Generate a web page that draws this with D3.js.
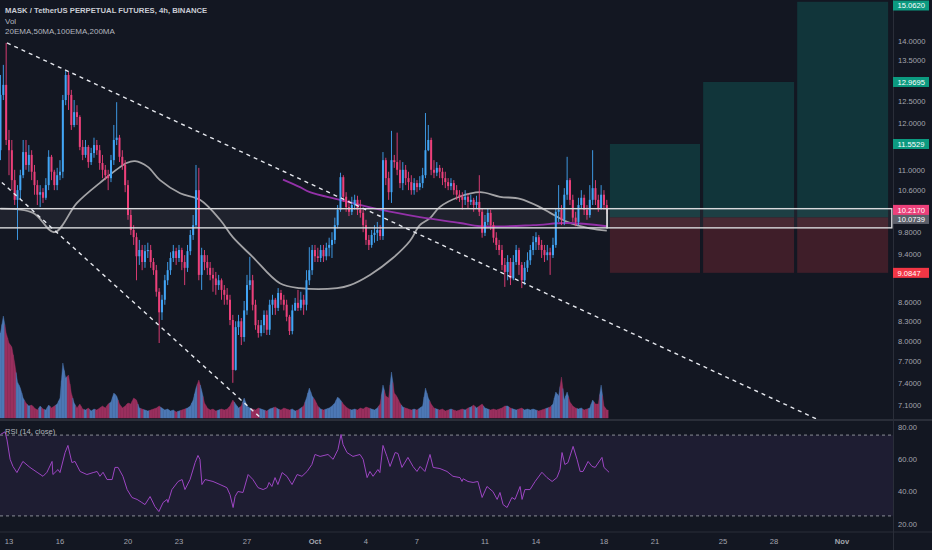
<!DOCTYPE html>
<html><head><meta charset="utf-8">
<script src="https://cdn.jsdelivr.net/npm/d3@7"></script>
<style>html,body{margin:0;padding:0;background:#131722;overflow:hidden}</style>
</head><body><svg id="c" width="932" height="550"></svg>
<script>
// ---------- DATA ----------
const symbolTitle = "MASK / TetherUS PERPETUAL FUTURES, 4h, BINANCE";
const legendLines = ["Vol", "20EMA,50MA,100EMA,200MA"];
const firstOpen = 11.42;
const closes = [
12.66,12.90,11.64,11.42,10.80,10.41,10.60,10.90,11.38,11.11,
11.32,10.97,10.70,10.51,10.56,10.45,10.70,11.28,10.97,10.70,
10.90,10.97,12.54,13.14,12.66,11.97,12.26,12.15,11.49,11.32,
11.49,11.17,11.36,11.53,11.42,11.15,11.01,10.90,10.84,11.21,
11.64,11.69,11.28,11.11,10.70,10.12,9.84,9.71,9.37,9.48,
9.27,9.46,9.48,9.27,9.13,8.77,8.44,8.64,8.96,9.13,
9.34,9.46,9.34,9.48,9.27,9.17,9.46,9.75,9.93,10.60,
9.05,9.39,9.27,9.17,9.05,8.99,8.88,8.96,8.80,8.72,
8.64,8.32,7.58,8.21,8.30,8.06,8.47,8.88,8.96,8.56,
8.24,8.12,8.24,8.40,8.17,8.56,8.64,8.51,8.75,8.64,
8.56,8.37,8.15,8.47,8.59,8.51,8.64,8.56,8.96,9.13,
9.48,9.37,9.34,9.48,9.37,9.52,9.57,9.66,9.93,10.22,
10.86,10.47,10.27,10.18,10.31,10.41,10.22,10.16,9.93,9.66,
9.57,9.75,9.79,9.84,9.73,11.21,10.84,10.56,11.21,11.17,
11.01,10.74,11.01,10.84,10.76,10.60,10.74,10.66,10.74,10.90,
11.42,11.64,11.01,10.95,11.05,10.97,10.84,10.76,10.68,10.74,
10.60,10.51,10.47,10.41,10.47,10.37,10.41,10.31,10.37,10.18,
9.79,9.99,10.16,9.93,9.70,9.57,9.48,9.22,9.10,9.27,
8.99,9.27,9.48,9.22,8.96,9.17,9.30,9.48,9.62,9.71,
9.57,9.48,9.39,9.44,9.39,9.57,10.18,10.22,10.03,10.51,
10.80,10.41,10.07,9.99,10.31,10.45,10.22,10.12,10.41,10.64,
10.41,10.25,10.51,10.31,10.217];
const highs = [
13.14,13.39,13.95,11.86,11.64,11.01,10.70,11.01,11.64,11.64,
11.53,11.42,11.11,10.80,10.70,10.64,10.84,11.42,11.32,11.01,
11.05,11.21,12.66,13.26,13.21,12.78,12.54,12.42,12.19,11.64,
11.64,11.53,11.47,11.69,11.64,11.53,11.32,11.11,11.01,11.32,
11.97,12.49,11.75,11.42,11.21,10.80,10.22,9.93,9.79,9.66,
9.57,9.57,9.61,9.57,9.34,9.22,8.83,8.72,9.05,9.27,
9.44,9.57,9.52,9.57,9.52,9.39,9.57,9.84,10.12,11.11,
11.05,9.52,9.48,9.39,9.27,9.17,9.10,9.05,8.99,8.88,
8.83,8.72,8.40,8.30,8.40,8.35,8.62,9.05,9.36,9.05,
8.64,8.32,8.32,8.47,8.47,8.64,8.72,8.67,8.83,8.80,
8.72,8.64,8.40,8.56,8.67,8.80,8.77,8.72,9.13,9.53,
9.57,9.57,9.52,9.57,9.57,9.61,9.70,9.80,10.07,10.31,
10.95,10.90,10.56,10.41,10.47,10.51,10.49,10.41,10.22,10.03,
9.75,9.84,9.93,9.99,9.93,11.38,11.26,10.97,11.84,11.32,
11.80,11.21,11.17,11.11,10.97,10.90,10.84,10.80,10.88,11.05,
12.24,11.97,11.69,11.21,11.17,11.11,11.05,10.97,10.84,10.84,
10.80,10.70,10.60,10.56,10.60,10.54,10.51,10.45,10.49,10.90,
10.25,10.12,10.25,10.22,9.99,9.80,9.66,9.57,9.34,9.39,
9.34,9.39,9.57,9.52,9.27,9.27,9.44,9.57,9.73,9.80,
9.75,9.66,9.57,9.57,9.52,9.70,10.25,10.70,10.31,10.64,
11.28,10.84,10.51,10.18,10.45,10.60,10.51,10.31,10.70,11.42,
10.80,10.51,10.70,10.60,10.41];
const lows = [
11.21,12.54,11.53,10.90,10.60,10.31,9.66,10.41,10.84,11.01,
10.97,10.80,10.51,10.31,10.27,10.35,10.41,10.60,10.80,10.60,
10.60,10.80,10.84,12.42,12.31,11.86,11.92,11.97,11.42,11.21,
11.26,11.05,11.11,11.26,11.32,11.01,10.84,10.80,10.60,10.76,
11.11,11.53,11.17,11.01,10.56,10.03,9.75,9.57,8.96,9.22,
9.13,9.17,9.34,9.17,9.05,8.69,7.97,8.32,8.56,8.88,
9.05,9.27,9.22,9.27,9.13,8.88,9.10,9.39,9.66,9.89,
8.96,8.80,9.13,9.05,8.96,8.77,8.72,8.80,8.64,8.56,
8.56,8.24,7.40,7.57,8.09,7.94,7.99,8.40,8.80,8.47,
8.17,8.05,8.07,8.12,8.09,8.09,8.40,8.40,8.46,8.56,
8.47,8.30,8.09,8.10,8.46,8.46,8.47,8.40,8.47,8.88,
9.05,9.27,9.27,9.27,9.27,9.30,9.37,9.34,9.59,9.87,
10.18,10.37,10.18,10.10,10.12,10.22,10.12,10.07,9.80,9.57,
9.48,9.52,9.61,9.64,9.66,9.66,10.70,10.41,10.35,11.05,
10.90,10.64,10.60,10.70,10.60,10.51,10.51,10.56,10.60,10.64,
10.84,11.40,10.90,10.84,10.88,10.84,10.70,10.64,10.60,10.60,
10.51,10.41,10.37,10.22,10.31,10.25,10.31,10.18,10.25,10.10,
9.70,9.73,9.93,9.84,9.61,9.48,9.39,9.13,8.85,8.96,
8.88,8.96,9.22,9.05,8.83,8.88,9.10,9.22,9.39,9.48,
9.48,9.34,9.27,9.30,9.05,9.34,9.52,9.99,9.93,9.93,
10.41,10.31,9.99,9.91,9.93,10.25,10.12,10.03,10.07,10.31,
10.31,10.18,10.22,10.22,10.14];
const volumes = [
850,1020,850,750,710,550,360,300,200,150,
120,130,100,80,120,90,80,130,100,120,
140,200,550,400,430,250,150,100,140,90,
80,100,70,90,80,100,120,100,140,160,
250,220,140,100,120,150,140,200,180,100,
90,80,70,80,90,100,120,100,80,90,
70,80,60,70,80,90,100,120,180,300,
380,280,150,100,80,90,70,80,90,80,
90,120,180,140,100,120,200,120,100,90,
80,100,90,80,70,90,100,110,90,80,
100,90,80,90,70,80,100,120,200,300,
220,180,120,90,80,90,100,120,150,210,
180,140,110,90,80,90,80,100,90,110,
100,90,80,100,140,330,220,200,460,250,
210,150,110,100,90,80,90,80,100,120,
300,200,140,100,90,80,90,70,80,90,
80,70,80,90,80,100,110,130,100,120,
140,100,90,80,90,80,90,100,120,120,
100,90,80,90,100,80,90,80,90,80,
70,80,90,100,110,140,260,220,410,180,
260,160,120,100,90,100,80,90,100,180,
140,140,330,120,80];
// moving averages sampled along the drawn curves (candle index, price)
const ma50At  = [0,11.5,19,27,35,44.5,47.5,52,56.3,63.4,70.4,77.5,82,89,98.6,105.7,118.8,123.4,130.4,138.5,144.5,148,151.6,155,162,169.3,176.3,183.4,190.4,194,200,208,214];
const ma50Val = [10.24,10.16,9.80,10.35,10.74,11.15,11.19,11.07,10.80,10.54,10.41,10.03,9.71,9.36,8.91,8.83,8.83,8.88,9.05,9.34,9.64,9.93,10.06,10.27,10.47,10.56,10.47,10.43,10.27,10.16,9.99,9.87,9.83];
const ma200At  = [99.7,105.7,109.2,119.8,134,148,162.2,169.3,188,200,214];
const ma200Val = [10.81,10.66,10.56,10.41,10.22,10.08,9.97,9.91,9.93,9.97,9.91];
// RSI (14, close)
const rsiAt = [0,1.6,2.3,3.4,4.4,5.8,7.9,10.4,12.9,15,16.4,18.2,18.5,20.3,21,22.8,23.8,25.2,26.3,28.1,30.5,32.7,34.1,35.1,36.2,37.6,39.4,40.4,41.5,43.2,44.7,46.4,48.2,49.9,51,52.8,54.5,55.9,57.4,58.8,59.1,60.5,62.7,64.1,65.1,66.9,68.7,69.7,70.4,71.1,72.2,75,77.5,79.9,81,82.1,82.8,83.8,85.6,87.4,89.1,90.9,92.7,94.1,94.8,95.8,96.9,97.9,99.4,101.1,102.9,104.7,106.4,108.2,109.9,111,112.8,115.6,117.4,119.1,120.2,120.9,122.3,124.4,126.9,128,129.4,130.4,131.5,133.2,133.9,135,136.4,137.5,139.3,140.3,141.7,143.8,145.6,147,148.1,149.8,151.6,152.7,155.1,157.6,159.7,162.2,162.9,163.3,165,166.8,168.5,170,171.7,173.8,175.3,176.3,177.4,178.8,180.5,181.6,183.4,184.1,185.1,186.9,188.7,191.1,192.9,194.7,196.4,197.5,198.2,199.2,200.3,202.1,203.5,204.6,205.6,207.4,208.8,209.9,212.3,213,214.8];
const rsiVal = [75.4,77,72,60,55.6,51.8,58.7,55,52,49.5,52,58.7,50.6,53.7,51.8,64.2,68.6,58,58.7,52.5,50.6,51.8,52.5,49.5,52,47.5,47.5,55,55,49.5,41.3,36.4,35.2,33.3,32,37,30.8,27.7,33.3,35.2,33.3,41.3,46.3,47.5,41.3,47.5,58,62.4,60,44.4,47.5,46.3,44.4,42.5,38.2,30.2,37,40.1,39.5,50.6,47.5,42.5,41.3,42.5,45.7,43.2,48.7,44.4,51.8,49.5,44.4,50.6,49.5,52.5,56.8,63,61.8,63,60,66,75.4,69.2,64.2,61.8,63,60,48.7,52.5,49.5,53.7,51.8,68.6,61.8,55.6,64.2,63.6,55,61.2,55.6,52.5,55.6,52.5,63,55,54.3,52.5,49.5,48.7,46.3,48,46.3,45.7,46.3,36.4,43.2,40.1,35.2,39.5,32,30.2,36.4,35.2,43.2,35.2,41.3,41.3,46.3,52,48.7,46.3,48.7,53.7,64.2,56.8,58,68,60,52.5,52.5,58.7,55.6,55,61.2,55,52];
const rsiTicks = [80, 60, 40, 20];
const rsiBands = [75, 25];
const priceTicks = [14, 13.5, 12.5, 12, 11, 10.6, 9.8, 9.4, 8.6, 8.3, 8.0, 7.7, 7.4, 7.1];
const dateTicks = ["2021-09-13","2021-09-16","2021-09-20","2021-09-23","2021-09-27","2021-10-01","2021-10-04","2021-10-07","2021-10-11","2021-10-14","2021-10-18","2021-10-21","2021-10-25","2021-10-28","2021-11-01"];
const dateTickLabels = ["13","16","20","23","27","Oct","4","7","11","14","18","21","25","28","Nov"];
// long-position drawings
const entryPrice = 10.0739, stopPrice = 9.0847, lastPrice = 10.2170;
const targets = [11.5529, 12.9695, 15.0620];
const positionSpans = [[215.1, 246.9], [248.0, 280.1], [281.2, 313.3]];
// horizontal zone box
const zoneLow = 9.88, zoneHigh = 10.24;
const zoneSpans = [[-5, 214.1], [214.1, 314.6]];
// trend lines (candle index, price)
const trendUpper = [[2.3, 13.95], [109.2, 10.73]];
const trendLower = [[2.3, 10.66], [42.9, 8.77]];

// ---------- DRAWING ----------
const W = 932, H = 550, PR = 893, MAIN_B = 419, RSI_T = 421, RSI_B = 531;
const UP = "#42a5f5", DOWN = "#ec407a";
const FONT = "'Liberation Sans', Arial, sans-serif";
const svg = d3.select("#c");
svg.append("rect").attr("width", W).attr("height", H).attr("fill", "#131722");
const defs = svg.append("defs");
defs.append("clipPath").attr("id", "mc").append("rect").attr("x", 0).attr("y", 0).attr("width", PR).attr("height", MAIN_B);
defs.append("clipPath").attr("id", "rc").append("rect").attr("x", 0).attr("y", RSI_T).attr("width", PR).attr("height", RSI_B - RSI_T);

const x = d3.scaleLinear().domain([0, 214]).range([0.5, 606.8]);
const y = d3.scaleLog().domain([7.1, 14]).range([405, 41]);
const volY = d3.scaleLinear().domain([0, 1020]).range([418, 316]);
const rsiY = d3.scaleLinear().domain([20, 80]).range([524, 427]);
const H4 = 4 * 3600 * 1000, t0 = Date.UTC(2021, 8, 12, 12);
const dateToIdx = s => (Date.parse(s + "T00:00:00Z") - t0) / H4;

const candles = closes.map((c, i) => {
  const o = i ? closes[i - 1] : firstOpen;
  return { i, o, c, h: highs[i], l: lows[i], v: volumes[i], up: c >= o };
});
const n = candles.length;

const g = svg.append("g").attr("clip-path", "url(#mc)");

// position tool
positionSpans.forEach((s, k) => {
  const x0 = x(s[0]), x1 = x(s[1]);
  g.append("rect").attr("x", x0).attr("width", x1 - x0)
    .attr("y", y(targets[k])).attr("height", y(entryPrice) - y(targets[k])).attr("fill", "#11353a");
  g.append("rect").attr("x", x0).attr("width", x1 - x0)
    .attr("y", y(entryPrice)).attr("height", y(stopPrice) - y(entryPrice)).attr("fill", "#3f1e29");
});

// zone fill
zoneSpans.forEach(s => {
  g.append("rect").attr("x", x(s[0])).attr("width", x(s[1]) - x(s[0]))
    .attr("y", y(zoneHigh)).attr("height", y(zoneLow) - y(zoneHigh)).attr("fill", "rgba(255,255,255,0.05)");
});

// volume mountains
const vArea = d3.area().x(p => p[0]).y0(418).y1(p => p[1]);
candles.forEach((d, i) => {
  const vp = i > 0 ? (candles[i - 1].v + d.v) / 2 : d.v;
  const vn = i < n - 1 ? (candles[i + 1].v + d.v) / 2 : d.v;
  const col = d.up ? "#4d78b5" : "#9a2f5e";
  g.append("path").attr("d", vArea([[x(i - 0.5), volY(vp)], [x(i), volY(d.v)], [x(i + 0.5), volY(vn)]]))
    .attr("fill", col).attr("stroke", col).attr("stroke-width", 0.4);
});

// moving averages
const maLine = d3.line().x(d => x(d[0])).y(d => y(d[1])).curve(d3.curveCatmullRom);
g.append("path").attr("d", maLine(ma50At.map((a, k) => [a, ma50Val[k]])))
  .attr("fill", "none").attr("stroke", "#a3a3a6").attr("stroke-width", 1.8);
g.append("path").attr("d", maLine(ma200At.map((a, k) => [a, ma200Val[k]])))
  .attr("fill", "none").attr("stroke", "#9331a8").attr("stroke-width", 1.8);

// candles
const cg = g.append("g");
candles.forEach(d => {
  const col = d.up ? UP : DOWN, cx = x(d.i);
  cg.append("line").attr("x1", cx).attr("x2", cx).attr("y1", y(d.h)).attr("y2", y(d.l))
    .attr("stroke", col).attr("stroke-width", 0.9);
  const yt = y(Math.max(d.o, d.c)), yb = y(Math.min(d.o, d.c));
  cg.append("rect").attr("x", cx - 1).attr("width", 2).attr("y", yt).attr("height", Math.max(1, yb - yt)).attr("fill", col);
});

// zone box outline
zoneSpans.forEach(s => {
  g.append("rect").attr("x", x(s[0])).attr("width", x(s[1]) - x(s[0]))
    .attr("y", y(zoneHigh)).attr("height", y(zoneLow) - y(zoneHigh))
    .attr("fill", "none").attr("stroke", "#d8d9dc").attr("stroke-width", 1.4);
});

// trend lines (extended in pixel space)
function extLine(pts, extendLeft) {
  const p1 = [x(pts[0][0]), y(pts[0][1])], p2 = [x(pts[1][0]), y(pts[1][1])];
  const m = (p2[1] - p1[1]) / (p2[0] - p1[0]);
  const xs = extendLeft ? -10 : p1[0], xe = 1000;
  return [[xs, p1[1] + m * (xs - p1[0])], [xe, p1[1] + m * (xe - p1[0])]];
}
[[trendUpper, false], [trendLower, true]].forEach(([t, el]) => {
  const e = extLine(t, el);
  g.append("line").attr("x1", e[0][0]).attr("y1", e[0][1]).attr("x2", e[1][0]).attr("y2", e[1][1])
    .attr("stroke", "#e6e8ee").attr("stroke-width", 1.4).attr("stroke-dasharray", "4,4");
});

// ---------- RSI pane ----------
const rg = svg.append("g").attr("clip-path", "url(#rc)");
rg.append("rect").attr("x", 0).attr("width", PR).attr("y", rsiY(rsiBands[0]))
  .attr("height", rsiY(rsiBands[1]) - rsiY(rsiBands[0])).attr("fill", "rgba(126,87,194,0.1)");
rsiBands.forEach(b => rg.append("line").attr("x1", 0).attr("x2", PR).attr("y1", rsiY(b)).attr("y2", rsiY(b))
  .attr("stroke", "#8a8d96").attr("stroke-width", 1).attr("stroke-dasharray", "3,3"));
rg.append("path").attr("d", d3.line().x(d => x(d[0])).y(d => rsiY(d[1]))(rsiAt.map((a, k) => [a, rsiVal[k]])))
  .attr("fill", "none").attr("stroke", "#9c45c2").attr("stroke-width", 1);

// ---------- separators ----------
const sep = "#2a2e39";
svg.append("line").attr("x1", 0).attr("x2", W).attr("y1", 420).attr("y2", 420).attr("stroke", sep).attr("stroke-width", 2);
svg.append("line").attr("x1", 0).attr("x2", W).attr("y1", 532).attr("y2", 532).attr("stroke", sep).attr("stroke-width", 1);
svg.append("line").attr("x1", PR + 0.5).attr("x2", PR + 0.5).attr("y1", 0).attr("y2", H).attr("stroke", sep).attr("stroke-width", 1);

// ---------- axes text ----------
const axCol = "#a3a6af";
priceTicks.forEach(p => svg.append("text").attr("x", 898).attr("y", y(p) + 2.7).text(d3.format(".4f")(p))
  .attr("fill", axCol).attr("font-size", 7.6).attr("font-family", FONT));
rsiTicks.forEach(v => svg.append("text").attr("x", 898).attr("y", rsiY(v) + 2.7).text(d3.format(".2f")(v))
  .attr("fill", axCol).attr("font-size", 7.6).attr("font-family", FONT));
dateTicks.forEach((d, k) => {
  const lab = dateTickLabels[k], month = isNaN(+lab);
  svg.append("text").attr("x", x(dateToIdx(d))).attr("y", 544).attr("text-anchor", "middle").text(lab)
    .attr("fill", axCol).attr("font-size", 7.6).attr("font-weight", month ? "bold" : "normal").attr("font-family", FONT);
});

// price labels on the right (kept inside the picture)
function priceLabel(p, bg, cy) {
  const yy = Math.max(5.5, cy === undefined ? y(p) : cy);
  svg.append("rect").attr("x", 893).attr("y", yy - 5).attr("width", 36).attr("height", 10).attr("fill", bg);
  svg.append("text").attr("x", 897.5).attr("y", yy + 2.7).text(d3.format(".4f")(p))
    .attr("fill", "#ffffff").attr("font-size", 7.6).attr("font-family", FONT);
}
targets.forEach(t => priceLabel(t, "#0c9a80"));
priceLabel(entryPrice, "#5d606b", y(entryPrice) + 1.5);
priceLabel(lastPrice, "#ec407a");
priceLabel(stopPrice, "#f23645");

// ---------- legends ----------
svg.append("text").attr("x", 5).attr("y", 13).text(symbolTitle)
  .attr("fill", "#c9ccd4").attr("font-size", 7.7).attr("font-weight", "bold").attr("font-family", FONT);
legendLines.forEach((t, k) => svg.append("text").attr("x", 5).attr("y", 23.6 + k * 10.4).text(t)
  .attr("fill", "#b2b5be").attr("font-size", 8).attr("font-family", FONT));
svg.append("text").attr("x", 5).attr("y", 433.5).text("RSI (14, close)")
  .attr("fill", "#b2b5be").attr("font-size", 7.6).attr("font-family", FONT);
</script></body></html>
